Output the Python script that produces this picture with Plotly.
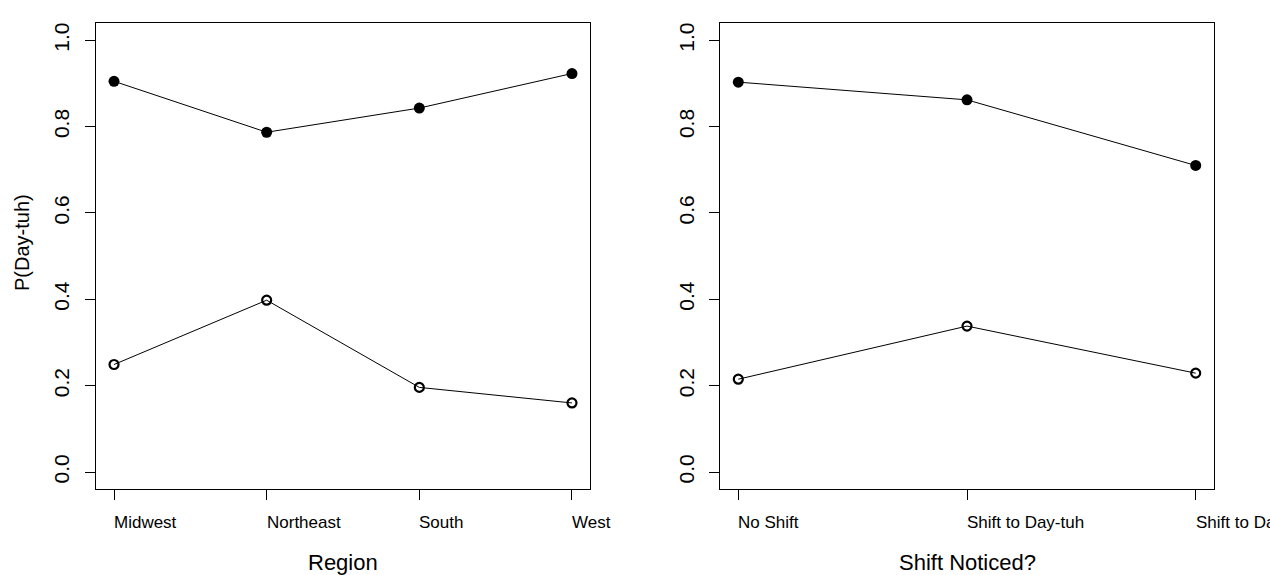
import plotly.graph_objects as go

regions = ["Midwest", "Northeast", "South", "West"]
region_filled = [0.905, 0.787, 0.843, 0.923]
region_open = [0.249, 0.398, 0.196, 0.160]

shifts = ["No Shift", "Shift to Day-tuh", "Shift to Dah-tuh"]
shift_filled = [0.903, 0.862, 0.710]
shift_open = [0.215, 0.338, 0.229]

y_ticks = [0.0, 0.2, 0.4, 0.6, 0.8, 1.0]
y_ticktext = ["0.0", "0.2", "0.4", "0.6", "0.8", "1.0"]

FONT = "Liberation Sans, Arial, sans-serif"
W, H = 1270, 575

fig = go.Figure()

def add_panel(cats, filled, opened, xa, ya):
    xs = list(range(1, len(cats) + 1))
    fig.add_trace(go.Scatter(x=xs, y=filled, mode="lines+markers", xaxis=xa, yaxis=ya,
                             line=dict(color="black", width=1),
                             marker=dict(symbol="circle", size=11, color="black"),
                             showlegend=False))
    fig.add_trace(go.Scatter(x=xs, y=opened, mode="lines+markers", xaxis=xa, yaxis=ya,
                             line=dict(color="black", width=1),
                             marker=dict(symbol="circle-open", size=9, color="black",
                                         line=dict(width=2.2, color="black")),
                             showlegend=False))
    for i, c in enumerate(cats):
        fig.add_annotation(x=i + 1, y=1 - 522 / H, xref=xa, yref="paper", text=c,
                           showarrow=False, xanchor="left", yanchor="middle",
                           xshift=-2, font=dict(family=FONT, size=17, color="black"))

add_panel(regions, region_filled, region_open, "x", "y")
add_panel(shifts, shift_filled, shift_open, "x2", "y2")

axis_common = dict(showline=True, mirror=True, linecolor="black", linewidth=1,
                   ticks="outside", ticklen=10, tickcolor="black", tickwidth=1,
                   showgrid=False, zeroline=False)

ydom = [1 - 489.3 / H, 1 - 23 / H]
fig.update_layout(
    width=W, height=H, margin=dict(l=0, r=0, t=0, b=0),
    paper_bgcolor="white", plot_bgcolor="white",
    xaxis=dict(domain=[95.7 / W, 590.3 / W], range=[0.88, 4.12],
               tickvals=[1, 2, 3, 4], showticklabels=False, anchor="y", **axis_common),
    yaxis=dict(domain=ydom, range=[-0.04, 1.04], tickvals=y_ticks, ticktext=y_ticktext,
               tickangle=-90, tickfont=dict(family=FONT, size=21, color="black"),
               ticklabelstandoff=7, anchor="x", **axis_common),
    xaxis2=dict(domain=[720 / W, 1214 / W], range=[0.92, 3.08],
                tickvals=[1, 2, 3], showticklabels=False, anchor="y2", **axis_common),
    yaxis2=dict(domain=ydom, range=[-0.04, 1.04], tickvals=y_ticks, ticktext=y_ticktext,
                tickangle=-90, tickfont=dict(family=FONT, size=21, color="black"),
                ticklabelstandoff=7, anchor="x2", **axis_common),
)

# axis titles
fig.add_annotation(x=(95.7 + 590.3) / 2 / W, y=1 - 562 / H, xref="paper", yref="paper",
                   text="Region", showarrow=False, xanchor="center", yanchor="middle",
                   font=dict(family=FONT, size=22, color="black"))
fig.add_annotation(x=(720 + 1214) / 2 / W, y=1 - 562 / H, xref="paper", yref="paper",
                   text="Shift Noticed?", showarrow=False, xanchor="center", yanchor="middle",
                   font=dict(family=FONT, size=22, color="black"))
fig.add_annotation(x=22 / W, y=1 - 243 / H, xref="paper", yref="paper",
                   text="P(Day-tuh)", showarrow=False, textangle=-90,
                   xanchor="center", yanchor="middle",
                   font=dict(family=FONT, size=20, color="black"))

fig.write_html("out.html")
